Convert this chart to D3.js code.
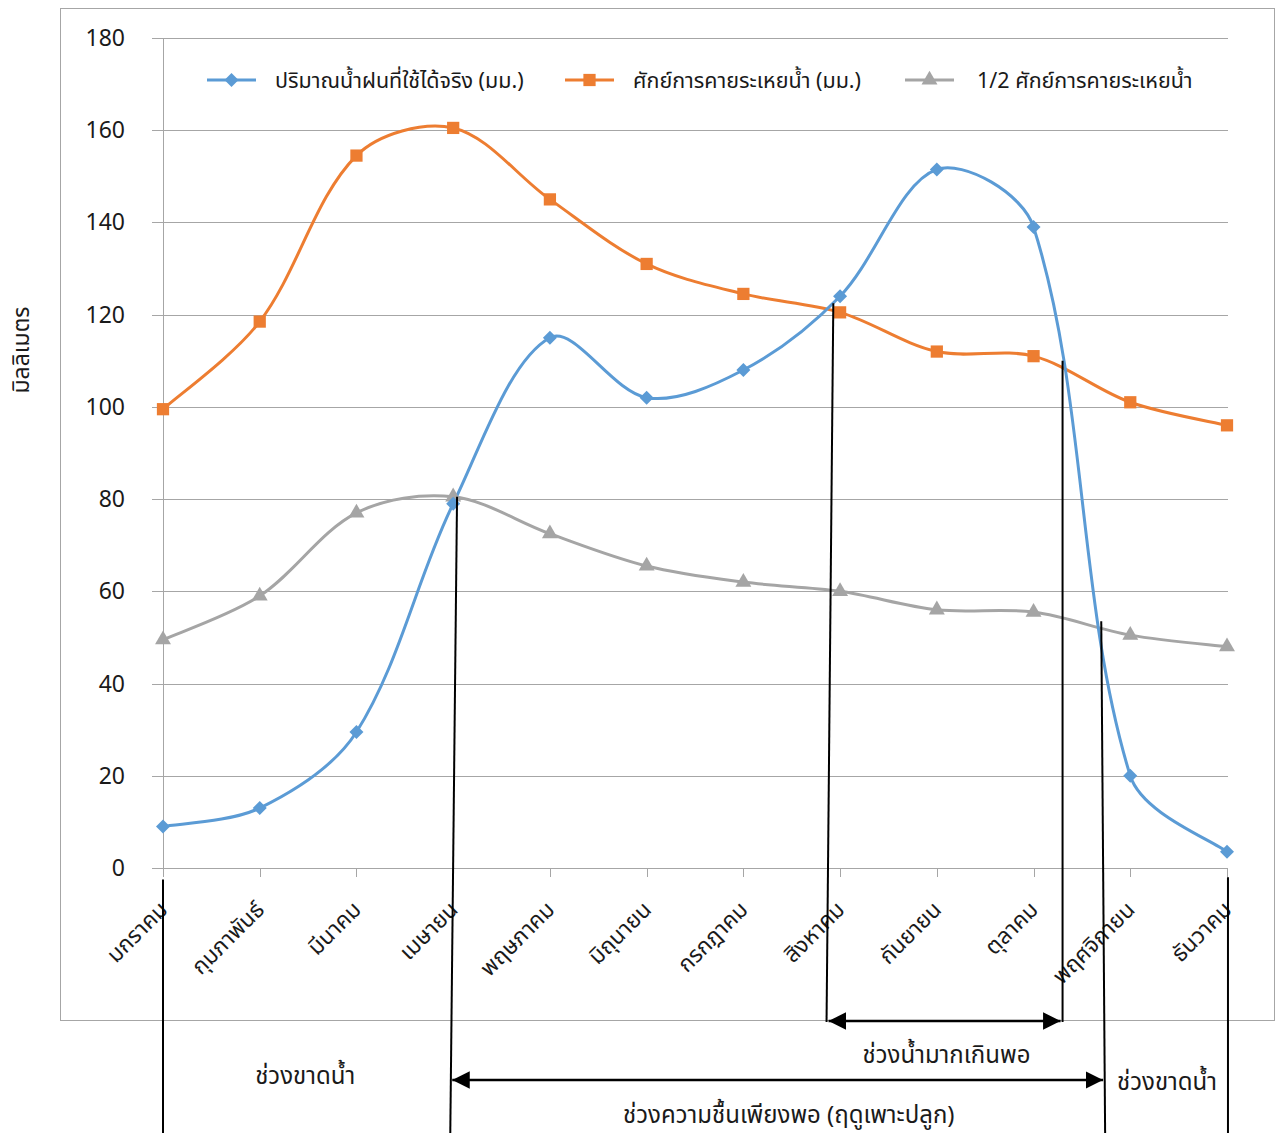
<!DOCTYPE html>
<html>
<head>
<meta charset="utf-8">
<script src="https://cdn.jsdelivr.net/npm/d3@7"></script>
<style>
  html, body { margin: 0; padding: 0; background: #fff; }
  svg { display: block; font-family: "Noto Sans Thai", "Noto Sans", "Open Sans", sans-serif; }
</style>
</head>
<body>
<svg id="chart" width="1285" height="1133"></svg>
<script>
// Monthly water balance (mm)
const months = ["มกราคม","กุมภาพันธ์","มีนาคม","เมษายน","พฤษภาคม","มิถุนายน",
                "กรกฎาคม","สิงหาคม","กันยายน","ตุลาคม","พฤศจิกายน","ธันวาคม"];
const effectiveRain = [9, 13, 29.5, 79, 115, 102, 108, 124, 151.5, 139, 20, 3.5];
const potentialET   = [99.5, 118.5, 154.5, 160.5, 145, 131, 124.5, 120.5, 112, 111, 101, 96];
const halfPET       = [49.5, 59, 77, 80.5, 72.5, 65.5, 62, 60, 56, 55.5, 50.5, 48];
const yTicks = [0, 20, 40, 60, 80, 100, 120, 140, 160, 180];

const seriesNames = ["ปริมาณน้ำฝนที่ใช้ได้จริง (มม.)", "ศักย์การคายระเหยน้ำ (มม.)", "1/2 ศักย์การคายระเหยน้ำ"];

// Period boundaries: top end in (month index, mm), bottom end month index and row
const boundaries = [
  { top: [0, -2.5],     bottomX: 0,     bottom: "page" },
  { top: [3.04, 80.5],  bottomX: 2.97,  bottom: "page" },
  { top: [6.93, 122.5], bottomX: 6.86,  bottom: "arrow" },
  { top: [9.3, 110],    bottomX: 9.3,   bottom: "arrow" },
  { top: [9.7, 53.5],   bottomX: 9.74,  bottom: "page" },
  { top: [11.01, -2],   bottomX: 11.01, bottom: "page" }
];
const periodArrows = [
  { from: 6.86, to: 9.3,  row: "upper" },
  { from: 2.97, to: 9.74, row: "lower" }
];
const periodLabels = [
  { text: "ช่วงขาดน้ำ", at: 1.47, row: 1076 },
  { text: "ช่วงน้ำมากเกินพอ", at: 8.1, row: 1055 },
  { text: "ช่วงขาดน้ำ", at: 10.38, row: 1082 },
  { text: "ช่วงความชื้นเพียงพอ (ฤดูเพาะปลูก)", at: 6.47, row: 1115 }
];

const colors = ["#5B9BD5", "#ED7D31", "#A5A5A5"];
const svg = d3.select("#chart");

// Chart frame
svg.append("rect").attr("x", 60.5).attr("y", 8.5).attr("width", 1214).attr("height", 1012)
  .attr("fill", "#fff").attr("stroke", "#A6A6A6").attr("stroke-width", 1);

const x = d3.scalePoint().domain(d3.range(months.length)).range([163, 1227]);
const y = d3.scaleLinear().domain([0, 180]).range([868, 38]);
const gridLeft = 152, gridRight = 1228;
const fx = v => x(Math.floor(v)) + (v - Math.floor(v)) * x.step();

// Horizontal gridlines
svg.append("g").selectAll("line").data(yTicks).join("line")
  .attr("x1", gridLeft).attr("x2", gridRight)
  .attr("y1", d => Math.round(y(d)) + 0.5).attr("y2", d => Math.round(y(d)) + 0.5)
  .attr("stroke", "#A6A6A6").attr("stroke-width", 1);

// Vertical axis line
svg.append("line").attr("x1", 163.5).attr("x2", 163.5).attr("y1", y(180)).attr("y2", y(0))
  .attr("stroke", "#A6A6A6");

// Y tick labels
svg.append("g").selectAll("text").data(yTicks).join("text")
  .attr("x", 125).attr("y", d => y(d)).attr("dy", "0.35em")
  .attr("text-anchor", "end").attr("font-size", 23).attr("fill", "#1a1a1a")
  .text(d => d);

// X axis ticks
svg.append("g").selectAll("line").data(d3.range(months.length)).join("line")
  .attr("x1", d => Math.round(x(d)) + 0.5).attr("x2", d => Math.round(x(d)) + 0.5)
  .attr("y1", y(0)).attr("y2", y(0) + 9)
  .attr("stroke", "#A6A6A6");

// Month labels, rotated
svg.append("g").selectAll("text").data(months).join("text")
  .attr("transform", (d, i) => `translate(${x(i) + 6},${y(0) + 43}) rotate(-45)`)
  .attr("text-anchor", "end").attr("font-size", 22.5).attr("fill", "#1a1a1a")
  .text(d => d);

// Y axis title
svg.append("text")
  .attr("transform", `translate(29,350) rotate(-90)`)
  .attr("text-anchor", "middle").attr("font-size", 23).attr("fill", "#1a1a1a")
  .text("มิลลิเมตร");

// Smoothed line: cubic Bezier through the points, tangent along the
// neighbour chord, handle lengths split in proportion to segment lengths.
function smoothPath(pts) {
  const p = d3.path();
  const n = pts.length;
  const dist = (a, b) => Math.hypot(b[0] - a[0], b[1] - a[1]);
  const handles = pts.map((pt, i) => {
    const prev = pts[Math.max(0, i - 1)], next = pts[Math.min(n - 1, i + 1)];
    const tx = next[0] - prev[0], ty = next[1] - prev[1];
    const dIn = i > 0 ? dist(prev, pt) : 0, dOut = i < n - 1 ? dist(pt, next) : 0;
    const sum = dIn + dOut || 1;
    const kIn = (i > 0 && i < n - 1) ? dIn / sum / 3 : 1 / 6;
    const kOut = (i > 0 && i < n - 1) ? dOut / sum / 3 : 1 / 6;
    return {
      in: [pt[0] - tx * kIn, pt[1] - ty * kIn],
      out: [pt[0] + tx * kOut, pt[1] + ty * kOut]
    };
  });
  p.moveTo(pts[0][0], pts[0][1]);
  for (let i = 1; i < n; i++) {
    const c1 = handles[i - 1].out, c2 = handles[i].in;
    p.bezierCurveTo(c1[0], c1[1], c2[0], c2[1], pts[i][0], pts[i][1]);
  }
  return p.toString();
}

const allSeries = [effectiveRain, potentialET, halfPET];
const drawOrder = [2, 1, 0];

const markerPath = [
  "M0,-7L7,0L0,7L-7,0Z",
  d3.symbol().type(d3.symbolSquare).size(150)(),
  d3.symbol().type(d3.symbolTriangle).size(110)()
];

drawOrder.forEach(s => {
  const pts = allSeries[s].map((v, i) => [x(i), y(v)]);
  svg.append("path").attr("d", smoothPath(pts))
    .attr("fill", "none").attr("stroke", colors[s]).attr("stroke-width", 3)
    .attr("stroke-linejoin", "round");
});
drawOrder.forEach(s => {
  svg.append("g").selectAll("path").data(allSeries[s]).join("path")
    .attr("d", markerPath[s])
    .attr("transform", (d, i) => `translate(${x(i)},${y(d)})`)
    .attr("fill", colors[s]);
});

// Legend
const legendItems = [
  { lx: 207, tx: 275 },
  { lx: 565, tx: 633 },
  { lx: 905, tx: 977 }
];
const legend = svg.append("g");
legendItems.forEach((it, s) => {
  const g = legend.append("g");
  g.append("line").attr("x1", it.lx).attr("x2", it.lx + 49).attr("y1", 80).attr("y2", 80)
    .attr("stroke", colors[s]).attr("stroke-width", 3);
  g.append("path").attr("d", markerPath[s])
    .attr("transform", `translate(${it.lx + 24.5},80)`)
    .attr("fill", colors[s]);
  g.append("text").attr("x", it.tx).attr("y", 80).attr("dy", "0.35em")
    .attr("font-size", 21.5).attr("fill", "#1a1a1a").text(seriesNames[s]);
});

// Period boundary lines and arrows
const defs = svg.append("defs");
defs.append("marker").attr("id", "head").attr("viewBox", "0 0 10 10")
  .attr("refX", 10).attr("refY", 5).attr("markerWidth", 7).attr("markerHeight", 7)
  .attr("markerUnits", "strokeWidth").attr("orient", "auto-start-reverse")
  .append("path").attr("d", "M0,0 L10,5 L0,10 Z").attr("fill", "#000");

const rowY = { upper: 1021, lower: 1080, arrow: 1022, page: 1133 };
const ann = svg.append("g");
boundaries.forEach(b => {
  ann.append("line")
    .attr("x1", fx(b.top[0])).attr("y1", y(b.top[1]))
    .attr("x2", fx(b.bottomX)).attr("y2", rowY[b.bottom])
    .attr("stroke", "#000").attr("stroke-width", 2);
});
periodArrows.forEach(a => {
  ann.append("line")
    .attr("x1", fx(a.from) + 2).attr("x2", fx(a.to) - 2)
    .attr("y1", rowY[a.row]).attr("y2", rowY[a.row])
    .attr("stroke", "#000").attr("stroke-width", 2.5)
    .attr("marker-start", "url(#head)").attr("marker-end", "url(#head)");
});
periodLabels.forEach(l => {
  ann.append("text").attr("x", fx(l.at)).attr("y", l.row).attr("dy", "0.35em")
    .attr("text-anchor", "middle").attr("font-size", 24).attr("fill", "#1a1a1a")
    .text(l.text);
});
</script>
</body>
</html>
